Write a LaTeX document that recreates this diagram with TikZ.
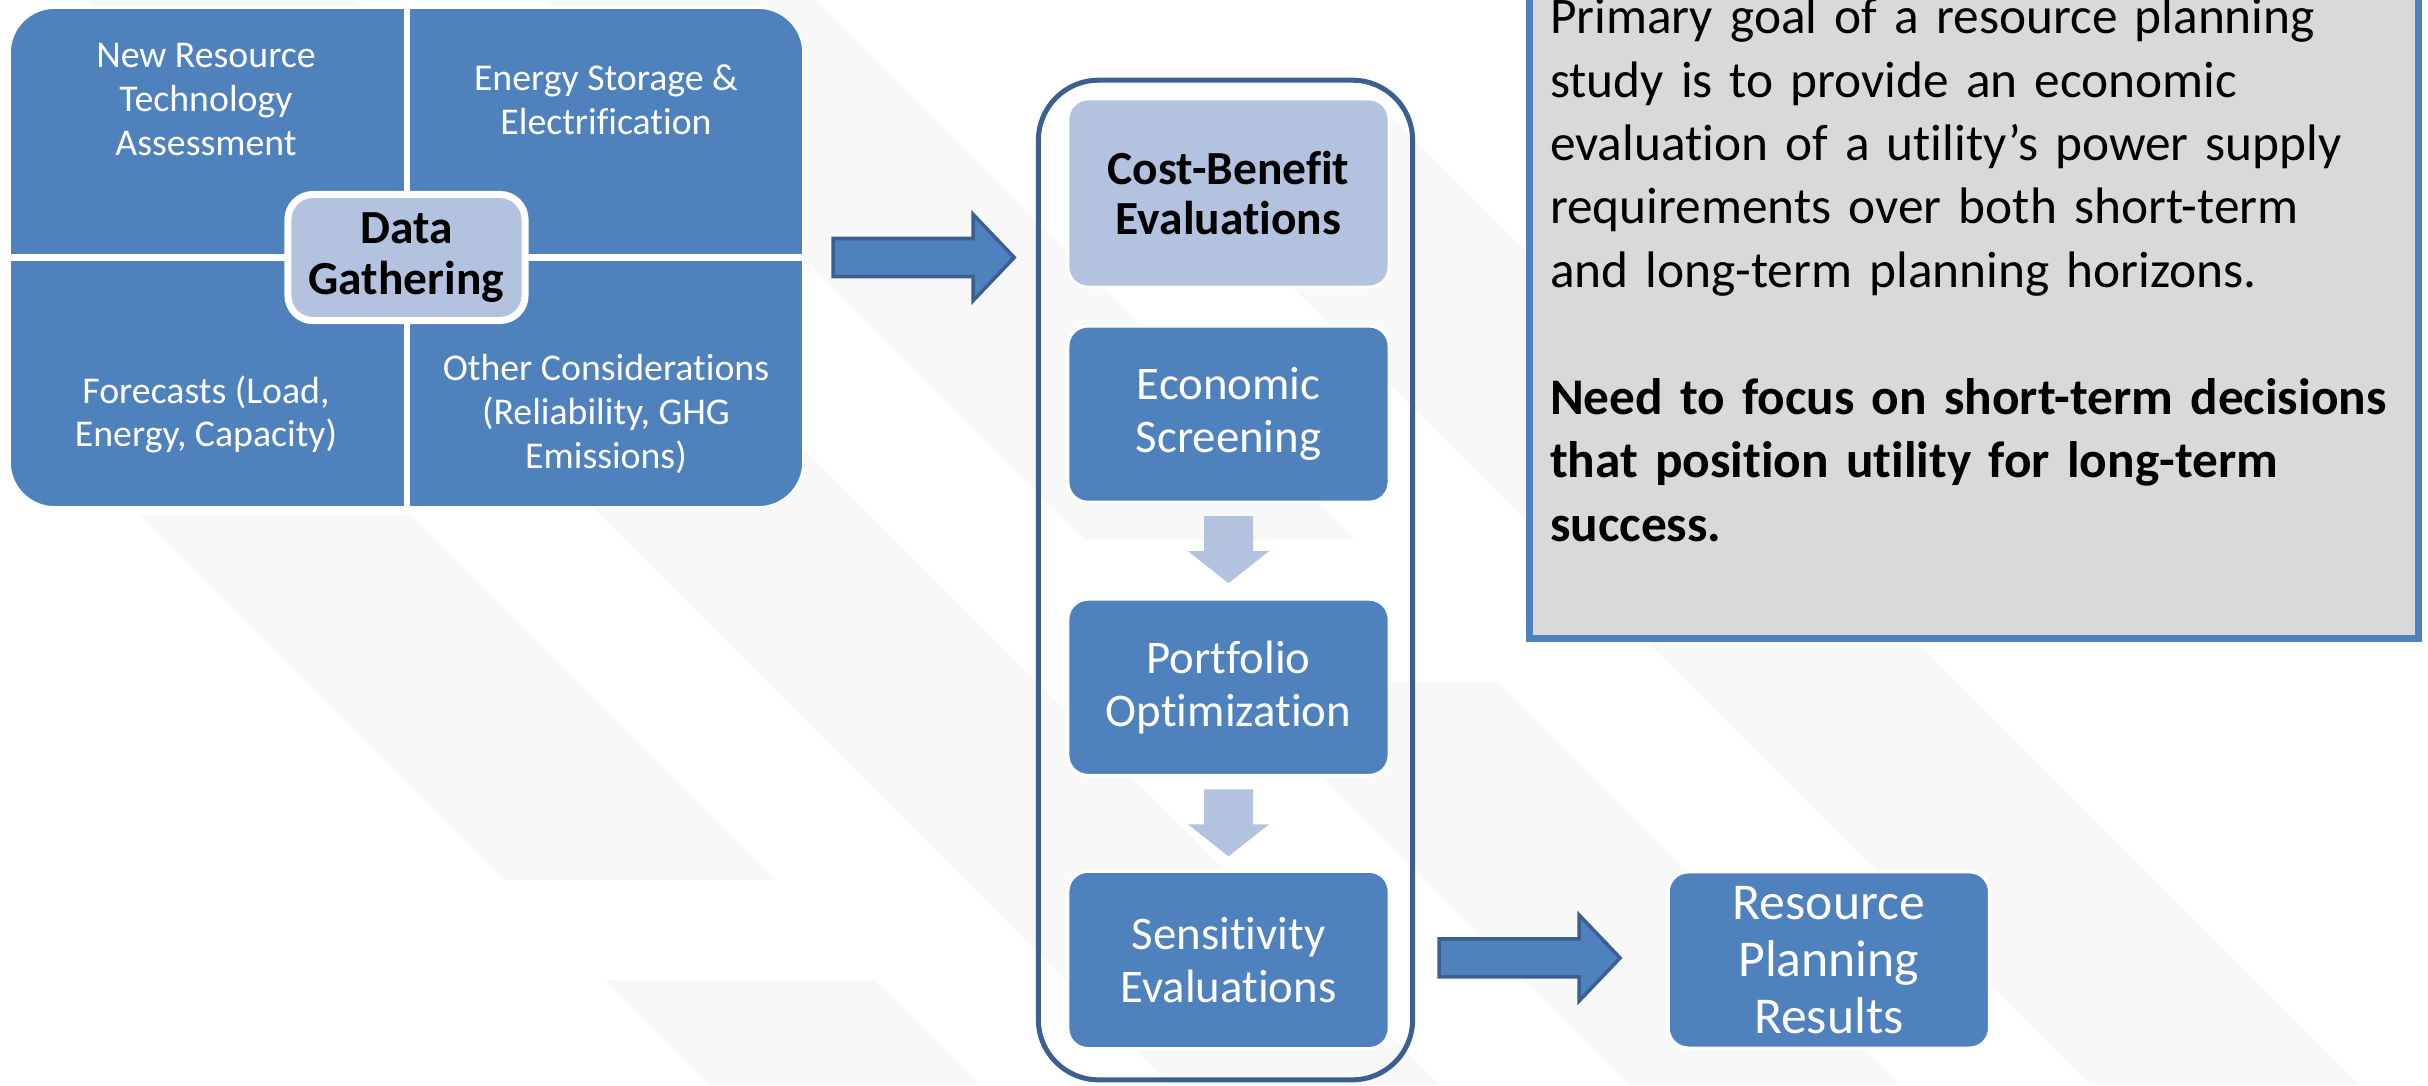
\documentclass[tikz,border=0pt]{standalone}
\usepackage{fontspec}
\setmainfont{Carlito}[Ligatures=NoCommon]
\usetikzlibrary{positioning,calc}

\definecolor{boxblue}{HTML}{4F81BD}
\definecolor{paleblue}{HTML}{B3C2DE}
\definecolor{edgeblue}{HTML}{3B5F8E}
\definecolor{notegray}{HTML}{D9D9D9}
\definecolor{stripe}{HTML}{F8F8F8}

% one faint 45 degree band: offset, top row, bottom row
\newcommand{\stripeband}[3]{%
  \fill[stripe] ({#1+#2},#2) -- ({#1+270+#2},#2) -- ({#1+270+#3},#3) -- ({#1+#3},#3) -- cycle;}

\tikzset{
  quadrant/.style={rounded corners=0.45cm, fill=boxblue, draw=white, line width=0.02cm,
    minimum width=7.93cm, minimum height=4.99cm, inner sep=0pt},
  divider/.style={white, line width=0.06cm},
  quadtext/.style={text=white, align=center, inner sep=0pt,
    font=\fontsize{10.75}{12.4}\selectfont},
  hub/.style={rounded corners=0.25cm, fill=paleblue, draw=white, line width=0.07cm,
    minimum width=2.37cm, minimum height=1.26cm, align=center, inner sep=0pt,
    font=\bfseries\fontsize{13.5}{14.65}\selectfont},
  stepbox/.style={rounded corners=0.2cm, fill=boxblue, draw=white, line width=0.03cm,
    minimum width=3.21cm, minimum height=1.76cm, text=white, align=center, inner sep=0pt,
    font=\fontsize{13.3}{15.1}\selectfont},
  headbox/.style={fill=paleblue, text=black, minimum height=1.88cm,
    font=\bfseries\fontsize{13.5}{14.2}\selectfont},
  resultfont/.style={font=\fontsize{14.7}{16.2}\selectfont},
  frame/.style={rounded corners=0.6cm, draw=edgeblue, line width=0.05cm,
    minimum width=3.74cm, minimum height=9.99cm},
  notebox/.style={fill=notegray, draw=boxblue, line width=0.07cm,
    minimum width=8.89cm, minimum height=6.785cm},
  notetext/.style={anchor=north west, text width=8.8cm, align=left, inner sep=0pt,
    font=\fontsize{14.6}{18.04}\selectfont},
  pics/bigarrow/.style={code={
    \draw[fill=boxblue, draw=edgeblue, line width=0.035cm]
      (0,-19) -- (140,-19) -- (140,-43) -- (181,0) -- (140,43) -- (140,19) -- (0,19) -- cycle;}},
  pics/steparrow/.style={code={
    \fill[paleblue] (-24.5,0) -- (24.5,0) -- (24.5,35) -- (40.5,35) -- (0,67)
      -- (-40.5,35) -- (-24.5,35) -- cycle;}}
}

\begin{document}
\begin{tikzpicture}[x=0.01cm, y=-0.01cm, every node/.append style={outer sep=0pt}]
\useasboundingbox (0,0) rectangle (2428,1085);
\clip (0,0) rectangle (2428,1085);

% faint background stripes
\stripeband{-375}{515}{880}
\stripeband{-375}{980}{1085}
\stripeband{85}{0}{1085}
\stripeband{545}{0}{540}
\stripeband{545}{682}{1085}
\stripeband{1005}{100}{520}
\stripeband{1005}{643}{1085}

% data gathering block
\node[quadrant] (gather) at (406.5,257.5) {};
\draw[divider] (gather.north) -- (gather.south) (gather.west) -- (gather.east);
\node[quadtext] (newres) at (206,99.5) {New Resource\\Technology\\Assessment};
\node[quadtext] (storage) at (606,99.5) {Energy Storage \&\\Electrification};
\node[quadtext] (forecast) at (206,414.5) {Forecasts (Load,\\Energy, Capacity)};
\node[quadtext] (other) at (606,414) {Other Considerations\\(Reliability, GHG\\Emissions)};
\node[hub] (datahub) at (gather.center) {Data\\Gathering};

% evaluation column
\node[frame] (frame) at (1225.5,580) {};
\node[stepbox, headbox] (cost) at (1228.5,193) {Cost-Benefit\\Evaluations};
\node[stepbox] (econ) [below=0.39cm of cost] {Economic\\Screening};
\node[stepbox] (port) [below=0.97cm of econ] {Portfolio\\Optimization};
\node[stepbox, minimum height=1.77cm] (sens) [below=0.96cm of port] {Sensitivity\\Evaluations};
\pic at ($(econ.south)+(0,14)$) {steparrow};
\pic at ($(port.south)+(0,14)$) {steparrow};

% hand-offs
\pic at ($(gather.east)+(30,0)$) {bigarrow};
\node[stepbox, resultfont] (results) [right=2.79cm of sens] {Resource\\Planning\\Results};
\pic at ($(sens.east)+(50,-2)$) {bigarrow};

% goal note
\node[notebox] (note) at (1974,299.25) {};
\node[notetext] (goal) at (1550,-2) {Primary goal of a resource planning\\
study is to provide an economic\\
evaluation of a utility’s power supply\\
requirements over both short-term\\
and long-term planning horizons.\\[\baselineskip]
\textbf{Need to focus on short-term decisions}\\
\textbf{that position utility for long-term}\\
\textbf{success.}};
\end{tikzpicture}
\end{document}
